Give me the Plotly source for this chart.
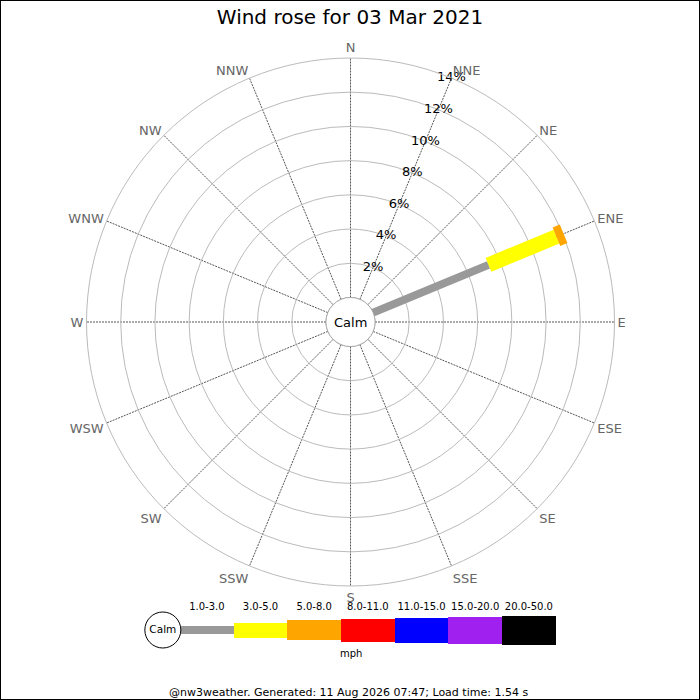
import plotly.graph_objects as go

# ---------------- data ----------------
title_text = "Wind rose for 03 Mar 2021"
directions = ["N", "NNE", "NE", "ENE", "E", "ESE", "SE", "SSE",
              "S", "SSW", "SW", "WSW", "W", "WNW", "NW", "NNW"]
band_labels = ["1.0-3.0", "3.0-5.0", "5.0-8.0", "8.0-11.0",
               "11.0-15.0", "15.0-20.0", "20.0-50.0"]
# percent frequency per direction for each speed band
pct_1_3   = [0, 0, 0, 7.3, 0, 0, 0, 0, 0, 0, 0, 0, 0, 0, 0, 0]
pct_3_5   = [0, 0, 0, 4.3, 0, 0, 0, 0, 0, 0, 0, 0, 0, 0, 0, 0]
pct_5_8   = [0, 0, 0, 0.45, 0, 0, 0, 0, 0, 0, 0, 0, 0, 0, 0, 0]
pct_8_11  = [0] * 16
pct_11_15 = [0] * 16
pct_15_20 = [0] * 16
pct_20_50 = [0] * 16
radial_ticks = [2, 4, 6, 8, 10, 12, 14]
radial_max = 14
footer_text = "@nw3weather. Generated: 11 Aug 2026 07:47; Load time: 1.54 s"
unit_text = "mph"
calm_text = "Calm"

# ---------------- style ----------------
band_colors = ["#999999", "#ffff00", "#ffa500", "#ff0000",
               "#0000ff", "#a020f0", "#000000"]
band_px = [8, 15, 20, 23, 25, 27, 29]
FONT = "DejaVu Sans"
W = H = 700

bands = [pct_1_3, pct_3_5, pct_5_8, pct_8_11, pct_11_15, pct_15_20, pct_20_50]

fig = go.Figure()

# stacked rose segments drawn as thick radial lines
for d_i, d in enumerate(directions):
    base = 0.0
    for b_i, band in enumerate(bands):
        v = band[d_i]
        if v > 0:
            fig.add_trace(go.Scatterpolar(
                r=[base, base + v], theta=[d, d], mode="lines",
                line=dict(color=band_colors[b_i], width=band_px[b_i]),
                hoverinfo="skip", showlegend=False, subplot="polar"))
        base += v

# calm circle (edge of hole)
circle_theta = [i * 2.5 for i in range(145)]
fig.add_trace(go.Scatterpolar(
    r=[0] * len(circle_theta), theta=circle_theta, thetaunit="degrees",
    mode="lines", line=dict(color="#999999", width=1),
    hoverinfo="skip", showlegend=False, subplot="polar2"))

# radial tick labels along NNE spoke
fig.add_trace(go.Scatterpolar(
    r=radial_ticks, theta=["NNE"] * len(radial_ticks), mode="text",
    text=[f"{t}%" for t in radial_ticks],
    textfont=dict(family=FONT, size=13, color="#000000"),
    hoverinfo="skip", showlegend=False, subplot="polar"))

# ---------------- legend (cartesian helper axis) ----------------
idx = list(range(len(band_labels)))
fig.add_trace(go.Bar(
    x=idx, y=band_px, base=[-p / 2 for p in band_px], width=1,
    marker=dict(color=band_colors, line=dict(width=0)),
    hoverinfo="skip", showlegend=False, xaxis="x", yaxis="y"))
fig.add_trace(go.Scatter(
    x=idx, y=[23] * len(idx), mode="text", text=band_labels,
    textfont=dict(family=FONT, size=10, color="#000000"),
    hoverinfo="skip", showlegend=False, xaxis="x", yaxis="y"))
fig.add_trace(go.Scatter(
    x=[-0.82], y=[0], mode="markers+text", text=[calm_text],
    marker=dict(size=36, color="white", line=dict(color="black", width=1)),
    textfont=dict(family=FONT, size=10.5, color="#000000"),
    hoverinfo="skip", showlegend=False, xaxis="x", yaxis="y"))

cx, cy, R = 350.5, 322.0, 264.0
hole = 24.5 / R
polar_domain = dict(x=[(cx - R) / W, (cx + R) / W],
                    y=[(H - cy - R) / H, (H - cy + R) / H])

seg_px = 53.67
x0_px = 180.0
x_lo = -0.5 - x0_px / seg_px
x_hi = -0.5 + (W - x0_px) / seg_px

fig.update_layout(
    width=W, height=H,
    margin=dict(l=0, r=0, t=0, b=0),
    paper_bgcolor="white", plot_bgcolor="white",
    font=dict(family=FONT),
    title=dict(text=title_text, x=0.5, xanchor="center",
               y=(H - 17) / H, yanchor="middle",
               font=dict(family=FONT, size=20, color="#000000")),
    polar=dict(
        domain=polar_domain, hole=hole, bgcolor="rgba(0,0,0,0)",
        radialaxis=dict(range=[0, radial_max], tickvals=radial_ticks,
                        showticklabels=False, ticks="", showline=False,
                        gridcolor="#bbbbbb", gridwidth=1),
        angularaxis=dict(type="category", categoryarray=directions,
                         direction="clockwise", rotation=90,
                         showline=True, linecolor="#bbbbbb", linewidth=1,
                         gridcolor="#555555", gridwidth=0.8,
                         griddash="2px,1px", ticks="",
                         tickfont=dict(family=FONT, size=13, color="#666666")),
    ),
    polar2=dict(
        domain=polar_domain, hole=hole, bgcolor="rgba(0,0,0,0)",
        radialaxis=dict(range=[0, radial_max], visible=False),
        angularaxis=dict(visible=False, direction="clockwise", rotation=90),
    ),
    xaxis=dict(domain=[0, 1], range=[x_lo, x_hi], visible=False, fixedrange=True),
    yaxis=dict(domain=[(H - 660) / H, (H - 600) / H], range=[-30, 30],
               visible=False, fixedrange=True),
    bargap=0,
    annotations=[
        dict(text=calm_text, x=cx / W, y=(H - cy) / H, xref="paper", yref="paper",
             xanchor="center", yanchor="middle",
             showarrow=False, font=dict(family=FONT, size=13, color="#000000")),
        dict(text=unit_text, x=351 / W, y=(H - 653) / H, xref="paper", yref="paper",
             xanchor="center", yanchor="middle",
             showarrow=False, font=dict(family=FONT, size=10, color="#000000")),
        dict(text=footer_text, x=348 / W, y=(H - 692) / H, xref="paper", yref="paper",
             xanchor="center", yanchor="middle",
             showarrow=False, font=dict(family=FONT, size=11, color="#000000")),
    ],
    shapes=[dict(type="rect", xref="paper", yref="paper", x0=0, y0=0, x1=1, y1=1,
                 line=dict(color="black", width=2), fillcolor="rgba(0,0,0,0)")],
)

fig.write_html("out.html", config={"displayModeBar": False},
               post_script="document.body.style.margin='0';")
